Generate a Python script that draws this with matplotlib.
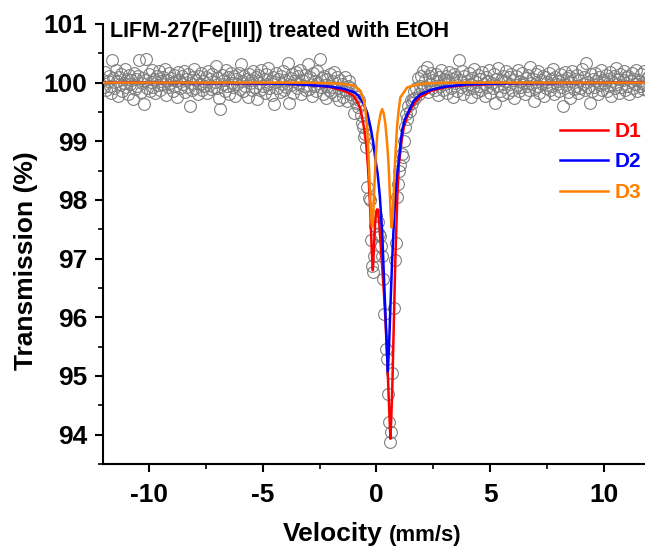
import matplotlib
matplotlib.use("Agg")
import matplotlib.pyplot as plt
from matplotlib.ticker import MultipleLocator

# ------------------------------------------------------------
# data: measured spectrum (velocity mm/s, transmission %)
# ------------------------------------------------------------
vel_left = [
    -12.00, -11.95, -11.90, -11.85, -11.80, -11.75, -11.70, -11.65, -11.60, -11.55,
    -11.50, -11.45, -11.40, -11.35, -11.30, -11.25, -11.20, -11.15, -11.10, -11.05,
    -11.00, -10.95, -10.90, -10.85, -10.80, -10.75, -10.70, -10.65, -10.60, -10.55,
    -10.50, -10.45, -10.40, -10.35, -10.30, -10.25, -10.20, -10.15, -10.10, -10.05,
    -10.00, -9.95, -9.90, -9.85, -9.80, -9.75, -9.70, -9.65, -9.60, -9.55,
    -9.50, -9.45, -9.40, -9.35, -9.30, -9.25, -9.20, -9.15, -9.10, -9.05,
    -9.00, -8.95, -8.90, -8.85, -8.80, -8.75, -8.70, -8.65, -8.60, -8.55,
    -8.50, -8.45, -8.40, -8.35, -8.30, -8.25, -8.20, -8.15, -8.10, -8.05,
    -8.00, -7.95, -7.90, -7.85, -7.80, -7.75, -7.70, -7.65, -7.60, -7.55,
    -7.50, -7.45, -7.40, -7.35, -7.30, -7.25, -7.20, -7.15, -7.10, -7.05,
    -7.00, -6.95, -6.90, -6.85, -6.80, -6.75, -6.70, -6.65, -6.60, -6.55,
    -6.50, -6.45, -6.40, -6.35, -6.30, -6.25, -6.20, -6.15, -6.10, -6.05,
    -6.00, -5.95, -5.90, -5.85, -5.80, -5.75, -5.70, -5.65, -5.60, -5.55,
    -5.50, -5.45, -5.40, -5.35, -5.30, -5.25, -5.20, -5.15, -5.10, -5.05,
    -5.00, -4.95, -4.90, -4.85, -4.80, -4.75, -4.70, -4.65, -4.60, -4.55,
    -4.50, -4.45, -4.40, -4.35, -4.30, -4.25, -4.20, -4.15, -4.10, -4.05,
    -4.00, -3.95, -3.90, -3.85, -3.80, -3.75, -3.70, -3.65, -3.60, -3.55,
    -3.50, -3.45, -3.40, -3.35, -3.30, -3.25, -3.20, -3.15, -3.10, -3.05,
    -3.00, -2.95, -2.90, -2.85, -2.80, -2.75, -2.70, -2.65, -2.60, -2.55,
    -2.50, -2.45, -2.40, -2.35, -2.30, -2.25, -2.20, -2.15, -2.10, -2.05,
    -2.00, -1.95, -1.90, -1.85, -1.80, -1.75, -1.70, -1.65, -1.60, -1.55,
    -1.50, -1.45, -1.40, -1.35, -1.30, -1.25, -1.20, -1.15, -1.10, -1.05,
]
trans_left = [
    100.05, 99.92, 100.18, 99.87, 100.02, 100.12, 99.95, 99.83, 100.39, 100.08,
    99.90, 100.21, 100.03, 99.78, 100.10, 99.97, 100.15, 99.86, 100.00, 100.24,
    99.93, 100.07, 99.81, 100.13, 99.98, 100.04, 99.72, 100.17, 99.89, 100.06,
    99.95, 100.11, 100.39, 99.84, 99.99, 100.08, 99.64, 100.05, 100.41, 99.90,
    100.14, 99.85, 100.01, 100.22, 99.93, 100.06, 99.83, 100.12, 99.96, 100.19,
    99.88, 100.03, 99.97, 100.10, 100.24, 99.79, 100.05, 99.92, 100.16, 99.99,
    100.08, 99.86, 100.13, 99.94, 100.02, 99.75, 100.18, 100.04, 99.90, 100.11,
    99.97, 100.20, 99.84, 100.07, 99.93, 100.15, 99.61, 100.00, 99.88, 100.09,
    100.23, 99.91, 100.05, 99.80, 100.12, 99.98, 100.17, 99.87, 100.03, 99.94,
    100.10, 99.82, 100.19, 99.96, 100.06, 99.89, 100.14, 99.92, 100.01, 100.28,
    99.90, 100.08, 99.74, 99.55, 100.13, 99.97, 100.04, 99.86, 100.21, 99.95,
    100.09, 99.81, 100.16, 100.00, 99.93, 100.11, 99.78, 100.06, 99.98, 100.17,
    99.89, 100.32, 100.02, 99.85, 100.12, 99.95, 100.07, 99.76, 100.15, 99.99,
    100.04, 99.88, 100.19, 99.92, 100.09, 99.72, 100.13, 100.00, 99.87, 100.22,
    99.95, 100.06, 99.82, 100.14, 99.98, 100.25, 99.90, 100.03, 99.79, 100.10,
    99.64, 100.01, 100.17, 99.91, 100.07, 99.84, 100.12, 99.97, 100.20, 99.88,
    100.05, 99.93, 100.34, 99.66, 100.08, 99.96, 100.15, 99.83, 100.02, 100.18,
    99.90, 100.11, 99.97, 100.21, 99.81, 100.04, 99.94, 100.13, 99.87, 100.07,
    100.32, 99.89, 100.10, 99.78, 100.16, 99.95, 100.03, 99.85, 100.19, 100.00,
    100.40, 99.92, 100.08, 99.80, 100.12, 99.96, 99.74, 100.06, 99.88, 100.15,
    99.84, 100.03, 99.93, 100.18, 99.79, 100.09, 99.90, 99.71, 100.05, 99.86,
    99.97, 99.76, 100.10, 99.88, 99.68, 99.95, 100.02, 99.80, 99.91, 99.73,
]

vel_dip = [
    -1.00, -0.95, -0.90, -0.85, -0.80, -0.75, -0.70, -0.65, -0.60, -0.55,
    -0.50, -0.45, -0.40, -0.35, -0.30, -0.25, -0.20, -0.15, -0.10, -0.05,
    0.00, 0.05, 0.10, 0.15, 0.20, 0.25, 0.30, 0.35, 0.40, 0.45,
    0.50, 0.55, 0.60, 0.65, 0.70, 0.75, 0.80, 0.85, 0.90, 0.95,
    1.00, 1.05, 1.10, 1.15, 1.20, 1.25, 1.30, 1.35, 1.40, 1.45,
    1.50,
]
trans_dip = [
    99.49, 99.82, 99.66, 99.75, 99.58, 99.70, 99.45, 99.31, 99.24, 99.07,
    99.12, 98.90, 98.22, 98.04, 98.00, 97.31, 96.88, 96.77, 97.05, 97.55,
    97.73, 97.62, 97.42, 97.39, 97.22, 97.05, 96.66, 96.06, 95.46, 95.29,
    94.70, 94.21, 93.87, 94.04, 95.05, 96.16, 96.97, 97.26, 98.05, 98.27,
    98.50, 98.59, 98.79, 98.73, 99.01, 99.24, 99.47, 99.38, 99.60, 99.52,
    99.70,
]

vel_right = [
    1.55, 1.60, 1.65, 1.70, 1.75, 1.80, 1.85, 1.90, 1.95, 2.00,
    2.05, 2.10, 2.15, 2.20, 2.25, 2.30, 2.35, 2.40, 2.45, 2.50,
    2.55, 2.60, 2.65, 2.70, 2.75, 2.80, 2.85, 2.90, 2.95, 3.00,
    3.05, 3.10, 3.15, 3.20, 3.25, 3.30, 3.35, 3.40, 3.45, 3.50,
    3.55, 3.60, 3.65, 3.70, 3.75, 3.80, 3.85, 3.90, 3.95, 4.00,
    4.05, 4.10, 4.15, 4.20, 4.25, 4.30, 4.35, 4.40, 4.45, 4.50,
    4.55, 4.60, 4.65, 4.70, 4.75, 4.80, 4.85, 4.90, 4.95, 5.00,
    5.05, 5.10, 5.15, 5.20, 5.25, 5.30, 5.35, 5.40, 5.45, 5.50,
    5.55, 5.60, 5.65, 5.70, 5.75, 5.80, 5.85, 5.90, 5.95, 6.00,
    6.05, 6.10, 6.15, 6.20, 6.25, 6.30, 6.35, 6.40, 6.45, 6.50,
    6.55, 6.60, 6.65, 6.70, 6.75, 6.80, 6.85, 6.90, 6.95, 7.00,
    7.05, 7.10, 7.15, 7.20, 7.25, 7.30, 7.35, 7.40, 7.45, 7.50,
    7.55, 7.60, 7.65, 7.70, 7.75, 7.80, 7.85, 7.90, 7.95, 8.00,
    8.05, 8.10, 8.15, 8.20, 8.25, 8.30, 8.35, 8.40, 8.45, 8.50,
    8.55, 8.60, 8.65, 8.70, 8.75, 8.80, 8.85, 8.90, 8.95, 9.00,
    9.05, 9.10, 9.15, 9.20, 9.25, 9.30, 9.35, 9.40, 9.45, 9.50,
    9.55, 9.60, 9.65, 9.70, 9.75, 9.80, 9.85, 9.90, 9.95, 10.00,
    10.05, 10.10, 10.15, 10.20, 10.25, 10.30, 10.35, 10.40, 10.45, 10.50,
    10.55, 10.60, 10.65, 10.70, 10.75, 10.80, 10.85, 10.90, 10.95, 11.00,
    11.05, 11.10, 11.15, 11.20, 11.25, 11.30, 11.35, 11.40, 11.45, 11.50,
    11.55, 11.60, 11.65, 11.70, 11.75, 11.80, 11.85, 11.90, 11.95, 12.00,
]
trans_right = [
    99.66, 99.72, 99.85, 99.74, 99.90, 100.08, 99.81, 99.95, 100.12, 99.88,
    100.20, 99.93, 100.05, 100.26, 99.84, 100.11, 99.98, 100.17, 99.90, 100.04,
    99.87, 100.14, 100.02, 99.79, 100.09, 99.94, 100.22, 99.88, 100.06, 99.97,
    100.12, 99.82, 100.03, 100.18, 99.91, 100.07, 99.76, 100.15, 99.99, 100.10,
    99.86, 100.39, 100.05, 99.93, 100.20, 99.80, 100.11, 99.96, 100.02, 99.89,
    100.16, 99.98, 99.75, 100.08, 99.91, 100.23, 100.01, 99.84, 100.13, 99.95,
    100.06, 99.87, 100.18, 99.97, 99.78, 100.10, 99.92, 100.03, 100.21, 99.83,
    100.00, 99.90, 100.14, 99.66, 100.07, 99.95, 100.25, 99.86, 100.04, 99.79,
    100.12, 99.93, 100.02, 100.19, 99.82, 100.09, 99.97, 100.15, 99.88, 100.05,
    99.74, 100.11, 99.96, 100.22, 99.85, 100.03, 99.92, 100.17, 100.00, 99.81,
    100.08, 99.94, 100.13, 99.87, 100.27, 99.99, 100.06, 99.69, 99.90, 100.15,
    99.95, 100.20, 99.83, 100.04, 99.97, 100.12, 99.78, 100.09, 99.91, 100.01,
    100.16, 99.88, 100.06, 99.94, 100.23, 99.80, 100.10, 99.98, 100.03, 99.86,
    100.14, 99.92, 100.05, 99.61, 100.18, 99.96, 100.08, 99.84, 100.11, 99.73,
    100.02, 100.19, 99.89, 100.07, 99.95, 100.13, 99.82, 100.04, 99.91, 100.24,
    99.97, 100.10, 99.87, 100.33, 100.01, 99.93, 99.66, 100.15, 99.85, 100.06,
    99.92, 100.17, 100.03, 99.80, 100.09, 99.96, 100.21, 99.88, 100.05, 99.99,
    100.13, 99.85, 100.07, 99.94, 100.18, 99.78, 100.02, 100.11, 99.90, 100.25,
    99.97, 100.06, 99.83, 100.15, 99.93, 100.04, 100.20, 99.87, 100.09, 99.95,
    100.11, 99.80, 100.02, 100.17, 99.91, 100.07, 99.98, 100.22, 99.86, 100.03,
    99.94, 100.14, 100.00, 99.89, 100.19, 99.96, 100.08, 99.85, 100.12, 100.01,
]

# fitted sub-spectra
d1_vel = [-12, -6, -4, -3, -2.4, -2, -1.5, -1.2, -1.0, -0.8,
          -0.7, -0.56, -0.45, -0.38, -0.31, -0.26, -0.21, -0.16, -0.12, -0.07,
          -0.02, 0.03, 0.07, 0.12, 0.2, 0.26, 0.32, 0.4, 0.47, 0.54,
          0.61, 0.65, 0.69, 0.76, 0.83, 0.91, 0.98, 1.1, 1.2, 1.35,
          1.49, 1.7, 1.93, 2.4, 3, 4, 6, 12]
d1_trans = [100.0, 99.99, 99.98, 99.96, 99.94, 99.92, 99.87, 99.82, 99.77, 99.64,
            99.54, 99.26, 98.95, 98.6, 98.12, 97.7, 97.15, 96.8, 97.1, 97.55,
            97.78, 97.84, 97.83, 97.6, 97.15, 96.8, 96.46, 95.9, 95.32, 94.6,
            93.93, 94.3, 94.75, 95.89, 97.02, 98.0, 98.6, 99.0, 99.24, 99.42,
            99.54, 99.67, 99.76, 99.86, 99.92, 99.96, 99.99, 100.0]

d2_vel = [-12, -6, -4, -3, -2, -1.5, -1.0, -0.8, -0.56, -0.4,
          -0.26, -0.15, -0.04, 0.05, 0.15, 0.25, 0.32, 0.4, 0.46, 0.5,
          0.55, 0.61, 0.68, 0.76, 0.83, 0.91, 0.98, 1.05, 1.13, 1.25,
          1.42, 1.65, 1.93, 2.4, 3, 4, 6, 12]
d2_trans = [100.0, 99.99, 99.98, 99.96, 99.93, 99.9, 99.84, 99.78, 99.64, 99.48,
            99.24, 99.0, 98.67, 98.45, 98.05, 97.45, 96.75, 96.0, 95.4, 95.08,
            95.5, 96.17, 96.9, 97.6, 98.1, 98.45, 98.67, 98.95, 99.2, 99.38,
            99.52, 99.7, 99.8, 99.88, 99.93, 99.97, 99.99, 100.0]

d3_vel = [-12, -3, -2, -1.5, -1.0, -0.7, -0.55, -0.48, -0.41, -0.34,
          -0.28, -0.23, -0.19, -0.15, -0.1, -0.04, 0.03, 0.1, 0.18, 0.25,
          0.32, 0.39, 0.47, 0.53, 0.58, 0.63, 0.67, 0.71, 0.76, 0.82,
          0.9, 0.97, 1.05, 1.35, 1.93, 3, 12]
d3_trans = [100.0, 100.0, 99.99, 99.98, 99.95, 99.86, 99.68, 99.52, 99.24, 98.67,
            98.1, 97.7, 97.54, 97.7, 98.15, 98.7, 99.1, 99.3, 99.47, 99.55,
            99.47, 99.3, 98.95, 98.6, 98.15, 97.7, 97.53, 97.7, 98.15, 98.7,
            99.24, 99.52, 99.75, 99.92, 99.98, 100.0, 100.0]

velocity = vel_left + vel_dip + vel_right
transmission = trans_left + trans_dip + trans_right

# ------------------------------------------------------------
# plot
# ------------------------------------------------------------
plt.rcParams['font.family'] = ['Liberation Sans', 'DejaVu Sans']
plt.rcParams['font.weight'] = 'bold'
plt.rcParams['axes.unicode_minus'] = False

fig = plt.figure(figsize=(6.45, 5.48), dpi=100)
ax = fig.add_axes([0.1597, 0.1533, 0.848, 0.803])

ax.plot(velocity, transmission, 'o', mfc='none', mec='#808080',
        ms=8.5, mew=0.8, zorder=1)
ax.plot(d1_vel, d1_trans, color='#ff0000', lw=1.8, label='D1', zorder=2)
ax.plot(d2_vel, d2_trans, color='#0000ff', lw=1.8, label='D2', zorder=3)
ax.plot(d3_vel, d3_trans, color='#ff8000', lw=1.8, label='D3', zorder=4)

ax.set_xlim(-12, 12)
ax.set_ylim(93.5, 101)
ax.set_xticks([-10, -5, 0, 5, 10])
ax.set_yticks([94, 95, 96, 97, 98, 99, 100, 101])
ax.xaxis.set_minor_locator(MultipleLocator(2.5))
ax.yaxis.set_minor_locator(MultipleLocator(0.5))

for side in ['top', 'right']:
    ax.spines[side].set_visible(False)
for side in ['left', 'bottom']:
    ax.spines[side].set_linewidth(1.5)

ax.tick_params(which='major', direction='out', length=6, width=1.5,
               labelsize=19, pad=5)
ax.tick_params(which='minor', direction='out', length=3.5, width=1.2)
ax.tick_params(axis='x', pad=8)

fig.text(110 / 645, 1 - 37 / 548, 'LIFM-27(Fe[III]) treated with EtOH',
         fontsize=15.5, fontweight='bold', va='baseline', ha='left')

fig.text(0.04, 0.524, 'Transmission (%)', rotation=90, ha='center',
         va='center', fontsize=19, fontweight='bold')
fig.text(383 / 645, 0.0128, 'Velocity', ha='right', va='baseline',
         fontsize=19, fontweight='bold')
fig.text(389 / 645, 0.0128, '(mm/s)', ha='left', va='baseline',
         fontsize=16, fontweight='bold')

# legend kept just inside the right edge
ax.legend(loc='upper left', bbox_to_anchor=(560 / 645, 1 - 122 / 548),
          bbox_transform=fig.transFigure, frameon=False,
          prop={'weight': 'bold', 'size': 15}, labelcolor='linecolor',
          handlelength=2.3, handletextpad=0.3, labelspacing=0.55,
          borderpad=0, borderaxespad=0)

fig.savefig('out.png', dpi=100)
